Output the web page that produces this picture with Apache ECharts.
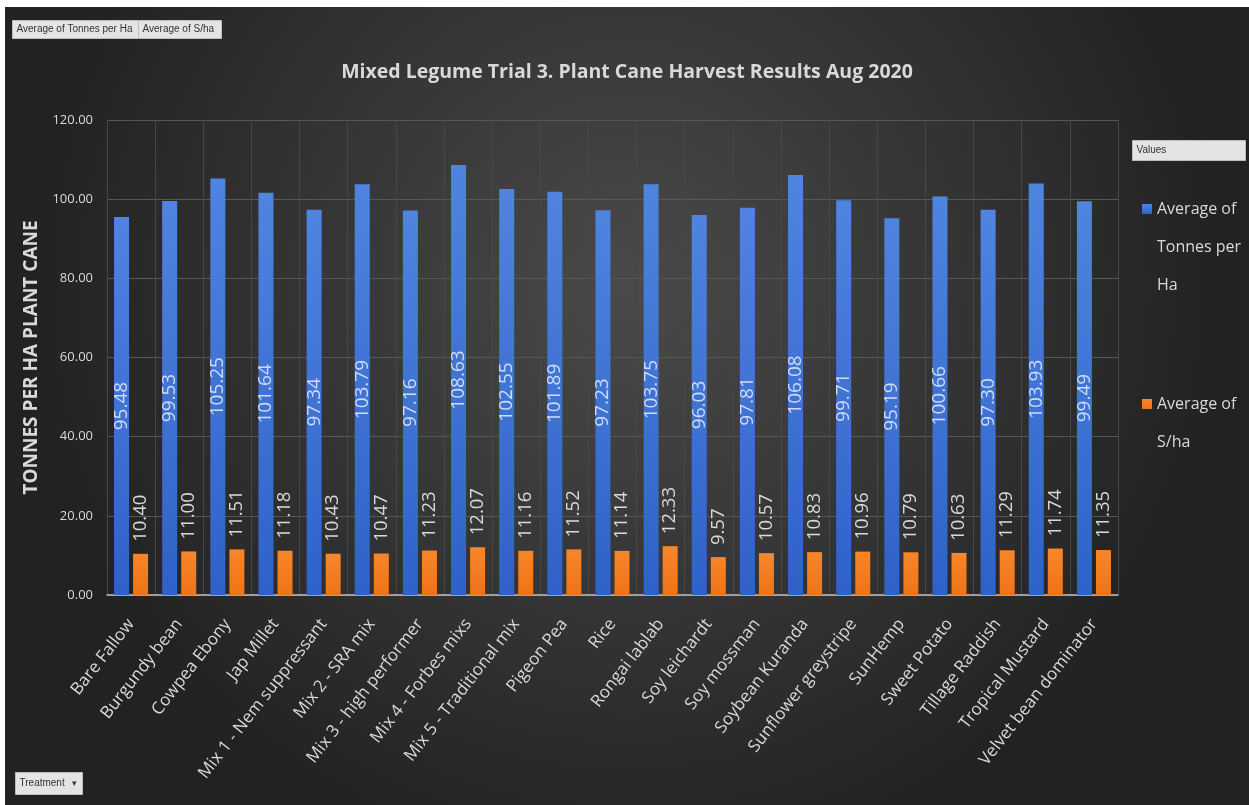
<!DOCTYPE html>
<html><head><meta charset="utf-8">
<script src="https://cdn.jsdelivr.net/npm/echarts@6/dist/echarts.min.js"></script>
<style>
html,body{margin:0;padding:0;background:#fff;width:1249px;height:805px;overflow:hidden}
#c{position:absolute;left:5px;top:7px;width:1244px;height:798px}
</style></head><body><div id="c"></div>
<script>
const categories = ["Bare Fallow","Burgundy bean","Cowpea Ebony","Jap Millet","Mix 1 - Nem suppressant","Mix 2 - SRA mix","Mix 3 - high performer","Mix 4 - Forbes mixs","Mix 5 - Traditional mix","Pigeon Pea","Rice","Rongai lablab","Soy leichardt","Soy mossman","Soybean Kuranda","Sunflower greystripe","SunHemp","Sweet Potato","Tillage Raddish","Tropical Mustard","Velvet bean dominator"];
const tonnesPerHa = [95.48,99.53,105.25,101.64,97.34,103.79,97.16,108.63,102.55,101.89,97.23,103.75,96.03,97.81,106.08,99.71,95.19,100.66,97.30,103.93,99.49];
const sPerHa = [10.40,11.00,11.51,11.18,10.43,10.47,11.23,12.07,11.16,11.52,11.14,12.33,9.57,10.57,10.83,10.96,10.79,10.63,11.29,11.74,11.35];
const seriesNames = ["Average of Tonnes per Ha","Average of S/ha"];
const legendLabels = [["Average of","Tonnes per","Ha"],["Average of","S/ha"]];
const yTicks = {min:0, max:120, interval:20};
const title = "Mixed Legume Trial 3. Plant Cane Harvest Results Aug 2020";
const yName = "TONNES PER HA PLANT CANE";

const FONT = "'Open Sans', sans-serif";
const txt = '#d9d9d9';
const chart = echarts.init(document.getElementById('c'));
function btn(x,y,w,h,label,extra){
  return {type:'group', left:x, top:y, children:[
    {type:'rect', shape:{x:0,y:0,width:w,height:h}, style:{fill:'#e4e4e4', stroke:'#bdbdbd', lineWidth:1}},
    {type:'text', x:4, y:h/2, style:{text:label, fill:'#333', font:"10px 'Liberation Sans Narrow','Liberation Sans',sans-serif", verticalAlign:'middle'}}
  ].concat(extra||[])};
}
// put the first line of a multi-line legend label level with the icon
function legendText(lines){
  const pad = new Array(lines.length-1).fill('');
  return pad.concat(lines).join('\n');
}
chart.setOption({
  backgroundColor: {type:'radial', x:0.5, y:0.35, r:0.75, colorStops:[{offset:0,color:'#4a4a4a'},{offset:1,color:'#222222'}]},
  title:{text:title, left:'center', top:50, textStyle:{color:txt, fontFamily:FONT, fontWeight:'bold', fontSize:19.5}},
  legend:[
    {data:[seriesNames[0]], orient:'vertical', left:1132, top:102, itemWidth:10, itemHeight:10, icon:'rect',
     formatter:()=>legendText(legendLabels[0]), textStyle:{color:txt, fontFamily:FONT, fontSize:16, lineHeight:38}},
    {data:[seriesNames[1]], orient:'vertical', left:1132, top:335, itemWidth:10, itemHeight:10, icon:'rect',
     formatter:()=>legendText(legendLabels[1]), textStyle:{color:txt, fontFamily:FONT, fontSize:16, lineHeight:38}}
  ],
  grid:{left:102, right:131, top:113, bottom:210},
  xAxis:{type:'category', data:categories,
    axisLine:{lineStyle:{color:'#bfbfbf', width:1.5}}, axisTick:{show:false},
    axisLabel:{rotate:52, color:txt, fontFamily:FONT, fontSize:17, margin:26, interval:0},
    splitLine:{show:true, lineStyle:{color:'#474747'}}},
  yAxis:{type:'value', min:yTicks.min, max:yTicks.max, interval:yTicks.interval,
    name:yName, nameLocation:'middle', nameGap:50, nameTextStyle:{color:txt, fontFamily:FONT, fontWeight:'bold', fontSize:19},
    axisLabel:{color:txt, fontFamily:FONT, fontSize:13, margin:14, formatter:v=>v.toFixed(2)},
    axisLine:{show:false}, axisTick:{show:false},
    splitLine:{lineStyle:{color:'#575757'}}},
  series:[
    {name:seriesNames[0], type:'bar', data:tonnesPerHa, barWidth:15, barGap:'27%',
     itemStyle:{color:{type:'linear',x:0,y:0,x2:0,y2:1,colorStops:[{offset:0,color:'#4f84e0'},{offset:1,color:'#2f62c8'}]}},
     label:{show:true, position:'inside', rotate:90, color:'#cfdcf5', fontFamily:FONT, fontSize:19, formatter:p=>p.value.toFixed(2)}},
    {name:seriesNames[1], type:'bar', data:sPerHa, barWidth:15,
     itemStyle:{color:{type:'linear',x:0,y:0,x2:0,y2:1,colorStops:[{offset:0,color:'#f8862a'},{offset:1,color:'#ef7316'}]}},
     label:{show:true, position:'top', rotate:90, align:'left', verticalAlign:'middle', distance:12, color:txt, fontFamily:FONT, fontSize:18.5, formatter:p=>p.value.toFixed(2)}}
  ],
  graphic:[
    btn(7,13,126,18,'Average of Tonnes per Ha'),
    btn(133,13,83,18,'Average of S/ha'),
    btn(1127,133,113,20,'Values'),
    btn(10,765,67,22,'Treatment',[{type:'text', x:56, y:11, style:{text:'▾', fill:'#333', font:"9px sans-serif", verticalAlign:'middle'}}])
  ]
});
</script></body></html>
